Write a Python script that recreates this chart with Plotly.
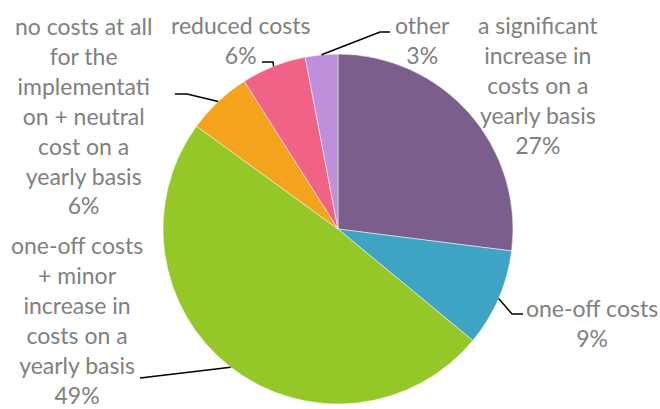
import math
import plotly.graph_objects as go

# data
labels = [
    "a significant<br>increase in<br>costs on a<br>yearly basis",
    "one-off costs",
    "one-off costs<br>+ minor<br>increase in<br>costs on a<br>yearly basis",
    "no costs at all<br>for the<br>implementati<br>on + neutral<br>cost on a<br>yearly basis",
    "reduced costs",
    "other",
]
values = [27, 9, 49, 6, 6, 3]
colors = ["#7B5E8C", "#3FA3C3", "#94C828", "#F4A31D", "#F06386", "#BF8FDB"]

W, H = 660, 409
CX, CY, R = 338, 229, 175


def px(x, y):
    return x / W, 1 - y / H


# label block centers (pixels) and leader elbows (None = no leader)
label_pos = [(538, 85), (592, 323), (77, 320), (83, 115), (240, 40), (422, 40)]
elbows = [
    None,
    [(512, 314), (523, 314)],
    [(140, 378)],
    [(187, 94), (175, 94)],
    [(273, 62), (262, 62)],
    [(380, 32), (390, 32)],
]

fig = go.Figure(go.Pie(
    labels=labels,
    values=values,
    sort=False,
    direction="clockwise",
    rotation=0,
    textinfo="none",
    hoverinfo="label+percent",
    marker=dict(colors=colors, line=dict(color="white", width=0.5)),
    domain=dict(x=[(CX - R) / W, (CX + R) / W], y=[(H - CY - R) / H, (H - CY + R) / H]),
))

total = sum(values)
cum = 0
for i, v in enumerate(values):
    mid = (cum + v / 2) / total * 2 * math.pi
    cum += v
    pct = round(v / total * 100)
    lx, ly = label_pos[i]
    fig.add_annotation(
        x=lx / W, y=1 - ly / H, xref="paper", yref="paper",
        text=f"{labels[i]}<br>{pct}%", showarrow=False,
        font=dict(family="Lato", size=23, color="#808080"),
        align="center", xanchor="center", yanchor="middle", borderpad=0,
    )
    if elbows[i] is None:
        continue
    pts = [(CX + R * math.sin(mid), CY - R * math.cos(mid))] + elbows[i]
    path = "M " + " L ".join(f"{a},{b}" for a, b in (px(x, y) for x, y in pts))
    fig.add_shape(type="path", xref="paper", yref="paper", path=path,
                  line=dict(color="black", width=1.5))

fig.update_layout(
    width=W, height=H,
    margin=dict(l=0, r=0, t=0, b=0),
    showlegend=False,
    paper_bgcolor="white",
    plot_bgcolor="white",
)

fig.write_html("out.html", config={"displayModeBar": False},
               post_script="document.body.style.margin='0';")
